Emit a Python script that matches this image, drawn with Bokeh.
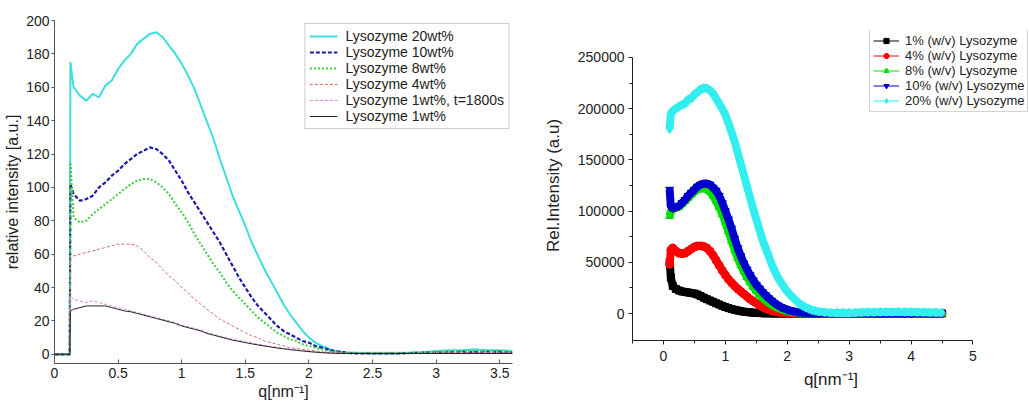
from bokeh.plotting import figure
from bokeh.layouts import row
from bokeh.models import Legend, LegendItem, FixedTicker, NumeralTickFormatter
from bokeh.embed import file_html
from bokeh.resources import INLINE

FONT = "Liberation Sans"

# ---------------- Left panel data (relative intensity vs q) ----------------
q_left = [0.0, 0.12, 0.125, 0.15,
          0.2, 0.25, 0.3, 0.35, 0.4, 0.45,
          0.5, 0.55, 0.6, 0.65, 0.7, 0.75, 0.8, 0.85, 0.9, 0.95,
          1.0, 1.05, 1.1, 1.15, 1.2, 1.25, 1.3, 1.35, 1.4, 1.45,
          1.5, 1.55, 1.6, 1.65, 1.7, 1.75, 1.8, 1.85, 1.9, 1.95,
          2.0, 2.05, 2.1, 2.15, 2.2, 2.25, 2.3, 2.35, 2.4,
          2.5, 2.6, 2.7, 2.8, 2.9, 3.0, 3.1, 3.2, 3.3, 3.4, 3.5, 3.6]

lys20 = [0, 0, 175, 160,
         155, 152, 156, 154, 161, 164,
         171, 176, 180, 186, 189, 192, 193, 190, 185, 180,
         174, 167, 159, 149, 139, 129, 117, 106, 95, 86,
         77, 67, 59, 51, 44, 37, 30, 24, 19, 14,
         10, 7, 5, 3.5, 2, 1.5, 1, 1, 0.8,
         0.5, 0.5, 0.7, 1, 1.2, 2, 2.5, 2.5, 3, 2.5, 2.5, 2]
lys10 = [0, 0, 102, 96,
         92, 93, 95, 100, 103, 107,
         110, 114, 117, 120, 122, 124, 123, 120, 116, 110,
         104, 97, 91, 85, 79, 73, 67, 60, 53, 46,
         40, 34, 29, 25, 21, 17, 14, 12, 10, 8,
         7, 5, 4, 3, 2, 1.5, 1, 0.5, 0.5,
         0.5, 0.5, 0.5, 0.8, 1, 1, 1.2, 1.5, 1.5, 1.5, 1.5, 1]
lys8 = [0, 0, 115, 82,
        79, 80, 84, 87, 90, 93,
        96, 99, 102, 104, 105, 105, 103, 100, 96, 90,
        85, 79, 72, 66, 60, 54, 49, 43, 38, 34,
        30, 26, 22, 19, 16, 13, 11, 9, 8, 6,
        5, 4, 3, 2, 1.5, 1, 1, 1, 1,
        1, 1, 1, 1, 1, 1.5, 1.5, 2, 2, 2, 2, 1.5]
lys4 = [0, 0, 58, 59,
        60, 61, 62, 63, 64, 65,
        66, 66, 66, 65, 62, 58, 55, 51, 47, 44,
        40, 37, 33, 30, 27, 24, 21, 19, 17, 15,
        13, 11, 10, 8, 7, 6, 5, 4, 3.5, 3,
        2.5, 2, 1.5, 1, 1, 0.8, 0.5, 0.5, 0.5,
        0.5, 0.5, 0.5, 0.5, 0.5, 0.8, 1, 1, 1, 1, 1, 1]
lys1_t1800 = [0, 0, 35, 33,
              32, 31, 32, 31, 30, 29,
              28, 27, 26, 25, 24, 23, 22, 21, 20, 19,
              17.5, 16.5, 15.5, 14.5, 13, 12, 11, 10, 9, 8.3,
              7.5, 6.8, 6, 5.4, 4.8, 4.2, 3.6, 3.1, 2.6, 2.2,
              1.8, 1.4, 1.1, 0.9, 0.7, 0.6, 0.6, 0.6, 0.6,
              0.6, 0.6, 0.6, 0.6, 0.6, 0.6, 0.6, 0.6, 0.6, 0.6, 0.6, 0.6]
lys1 = [0, 0, 26, 27,
        28, 29, 29, 29, 29, 28,
        27, 26, 25.5, 24.5, 23.5, 22.5, 21.5, 20.5, 19.5, 18.5,
        17, 16, 15, 14, 12.5, 11.5, 10.5, 9.5, 8.5, 7.8,
        7, 6.3, 5.6, 5, 4.4, 3.8, 3.3, 2.8, 2.4, 2,
        1.6, 1.3, 1, 0.8, 0.6, 0.5, 0.5, 0.5, 0.5,
        0.5, 0.5, 0.5, 0.5, 0.5, 0.5, 0.5, 0.5, 0.5, 0.5, 0.5, 0.5]

left_labels = ["Lysozyme 20wt%", "Lysozyme 10wt%", "Lysozyme 8wt%",
               "Lysozyme 4wt%", "Lysozyme 1wt%, t=1800s", "Lysozyme 1wt%"]
left_x_ticks = [0, 0.5, 1, 1.5, 2, 2.5, 3, 3.5]
left_y_ticks = [0, 20, 40, 60, 80, 100, 120, 140, 160, 180, 200]

# ---------------- Right panel data (Rel. intensity vs q) ----------------
q_right = [0.1, 0.12, 0.15,
           0.2, 0.25, 0.3, 0.35, 0.4, 0.45,
           0.5, 0.55, 0.6, 0.65, 0.7, 0.75, 0.8, 0.85, 0.9, 0.95,
           1.0, 1.05, 1.1, 1.15, 1.2, 1.25, 1.3, 1.35, 1.4, 1.45,
           1.5, 1.55, 1.6, 1.65, 1.7, 1.75, 1.8, 1.85, 1.9, 1.95,
           2.0, 2.05, 2.1, 2.15, 2.2, 2.25, 2.3, 2.35, 2.4, 2.45, 2.5,
           2.6, 2.7, 2.8, 2.9, 3.0, 3.1, 3.2, 3.3, 3.4, 3.5,
           3.6, 3.7, 3.8, 3.9, 4.0, 4.1, 4.2, 4.3, 4.4, 4.5]

wv1 = [50000, 35000, 27000,
       24000, 22500, 21500, 21000, 20500, 20000,
       19500, 18500, 17000, 15500, 14000, 12700, 11500, 10000, 8800, 7500,
       6300, 5300, 4400, 3600, 2900, 2300, 1800, 1400, 1100, 800,
       600, 400, 300, 200, 200, 100, 100, 100, 100, 100,
       100, 100, 100, 100, 100, 100, 100, 100, 100, 100, 100,
       100, 100, 100, 100, 100, 100, 100, 100, 100, 100,
       100, 100, 100, 100, 100, 100, 100, 100, 100, 100]
wv4 = [48000, 62000, 64000,
       61000, 59000, 58500, 59000, 61000, 63000,
       65000, 66000, 66000, 65500, 64000, 61000, 57000, 52000, 47000, 42000,
       37500, 33500, 30000, 27000, 24000, 21500, 19000, 16500, 14000, 12000,
       10000, 8000, 6500, 5000, 3800, 2800, 2000, 1400, 1000, 700,
       500, 400, 300, 200, 200, 100, 100, 100, 100, 100, 100,
       100, 100, 100, 100, 100, 100, 100, 100, 100, 100,
       100, 100, 100, 100, 100, 100, 100, 100, 100, 100]
wv8 = [95000, 100000, 102000,
       103000, 104000, 107000, 110000, 113000, 116000,
       119000, 121000, 122000, 122000, 121000, 119000, 115000, 110000, 104000, 97000,
       89000, 80000, 71000, 62000, 54000, 47000, 41000, 35500, 30500, 26000,
       22000, 18500, 15500, 13000, 10500, 8500, 6800, 5300, 4100, 3100,
       2300, 1700, 1200, 900, 600, 400, 300, 200, 200, 200, 200,
       200, 200, 200, 200, 200, 200, 200, 200, 200, 200,
       200, 200, 200, 200, 200, 200, 200, 200, 200, 200]
wv10 = [121000, 104000, 103000,
        104000, 105000, 108000, 111000, 115000, 118000,
        121000, 124000, 126000, 127000, 127000, 126000, 123000, 120000, 115000, 108000,
        100000, 92000, 83000, 73000, 64000, 56000, 49000, 43000, 37500, 32500,
        28000, 24500, 21000, 18000, 15000, 12500, 10000, 8000, 6300, 4900,
        3800, 2900, 2200, 1600, 1200, 900, 700, 500, 400, 300, 300,
        200, 200, 200, 200, 200, 200, 200, 200, 200, 200,
        200, 200, 200, 200, 200, 200, 200, 200, 200, 200]
wv20 = [180000, 195000, 198000,
        200000, 202000, 204000, 205000, 209000, 210000,
        214000, 216000, 219000, 220000, 220000, 218000, 215000, 210000, 205000, 200000,
        194000, 186000, 177000, 168000, 157000, 146000, 135000, 124000, 113000, 102000,
        92000, 82000, 72000, 64000, 56000, 48000, 41000, 35000, 30000, 25500,
        21500, 18000, 15000, 12000, 9500, 7500, 5800, 4500, 3400, 2600, 2000,
        1200, 800, 600, 500, 600, 800, 1000, 1200, 1300, 1400,
        1500, 1500, 1600, 1500, 1500, 1300, 1200, 1000, 900, 800]

right_labels = ["1% (w/v) Lysozyme", "4% (w/v) Lysozyme", "8% (w/v) Lysozyme",
                "10% (w/v) Lysozyme", "20% (w/v) Lysozyme"]
right_x_ticks = [0, 1, 2, 3, 4, 5]
right_x_minor = [-0.5, 0.5, 1.5, 2.5, 3.5, 4.5]
right_y_ticks = [0, 50000, 100000, 150000, 200000, 250000]
right_y_minor = [25000, 75000, 125000, 175000, 225000]

# ---------------- Left figure ----------------
p1 = figure(width=540, height=403, x_range=(0, 3.6), y_range=(-5.5, 200),
            output_backend="svg", toolbar_location=None,
            min_border_left=54, min_border_right=28, min_border_top=20, min_border_bottom=40)
p1.outline_line_color = None
p1.grid.visible = False

left_styles = [
    (lys20, "#3fdede", 2.0, "solid"),
    (lys10, "#1c1ca8", 2.2, "4 2"),
    (lys8, "#3ccc3c", 2.0, "2 2"),
    (lys4, "#d46a6a", 1.0, "3 2"),
    (lys1_t1800, "#d98ad9", 1.0, "3 2"),
    (lys1, "#222222", 1.0, "solid"),
]
for (ys, col, lw, dash), lab in zip(left_styles, left_labels):
    p1.line(q_left, ys, line_color=col, line_width=lw, line_dash=dash, legend_label=lab)

p1.xaxis.ticker = FixedTicker(ticks=left_x_ticks, minor_ticks=[])
p1.yaxis.ticker = FixedTicker(ticks=left_y_ticks, minor_ticks=[])
p1.xaxis.formatter = NumeralTickFormatter(format="0.[0]")
p1.yaxis.formatter = NumeralTickFormatter(format="0")
p1.xaxis.axis_label = "q[nm⁻¹]"
p1.yaxis.axis_label = "relative intensity [a.u.]"
for ax in (p1.xaxis[0], p1.yaxis[0]):
    ax.axis_line_color = "#555555"
    ax.major_tick_line_color = "#555555"
    ax.minor_tick_line_color = None
    ax.major_label_text_font = FONT
    ax.major_label_text_font_size = "14px"
    ax.major_label_text_color = "#222222"
    ax.axis_label_text_font = FONT
    ax.axis_label_text_font_size = "16px"
    ax.axis_label_text_font_style = "normal"
    ax.axis_label_text_color = "#222222"
p1.xaxis.major_tick_in = 4
p1.xaxis.major_tick_out = 0
p1.xaxis.major_label_standoff = 4
p1.xaxis.axis_label_standoff = 2
p1.yaxis.major_tick_in = 0
p1.yaxis.major_tick_out = 3
p1.yaxis.major_label_standoff = 2
p1.yaxis.axis_label_standoff = 2

lg1 = p1.legend[0]
lg1.location = "top_right"
lg1.margin = 3
lg1.padding = 4
lg1.spacing = 0
lg1.label_height = 14
lg1.glyph_height = 14
lg1.glyph_width = 28
lg1.label_standoff = 8
lg1.label_text_font = FONT
lg1.label_text_font_size = "14px"
lg1.label_text_color = "#222222"
lg1.border_line_color = "#9a9a9a"
lg1.border_line_width = 1
lg1.background_fill_alpha = 1.0

# ---------------- Right figure ----------------
# frame spans up to the canvas edge so the legend (which overlaps the top/right) is not clipped;
# the axis lines are limited with bounds.
p2 = figure(width=489, height=403, x_range=(-0.5, 5.913), y_range=(-26367, 276367),
            output_backend="svg", toolbar_location=None,
            min_border_left=85, min_border_right=0, min_border_top=30, min_border_bottom=63)
p2.outline_line_color = None
p2.grid.visible = False

for p in (p1, p2):
    if hasattr(p, "frame_align"):
        p.frame_align = False

right_styles = [
    (wv1, "#000000", "square", 7),
    (wv4, "#ff0000", "circle", 8),
    (wv8, "#00e000", "triangle", 8),
    (wv10, "#0000cc", "inverted_triangle", 8),
    (wv20, "#33eeee", "diamond", 9),
]
items = []
for (ys, col, mk, sz), lab in zip(right_styles, right_labels):
    p2.line(q_right, ys, line_color=col, line_width=8)
    thin = p2.line(q_right, ys, line_color=col, line_width=1)
    sc = p2.scatter(q_right, ys, marker=mk, size=sz, fill_color=col, line_color=col)
    items.append(LegendItem(label=lab, renderers=[thin, sc]))

lg2 = Legend(items=items, location=(237, 228))
lg2.padding = 3
lg2.spacing = 0
lg2.label_height = 13
lg2.glyph_height = 13
lg2.glyph_width = 26
lg2.label_standoff = 6
lg2.label_text_font = FONT
lg2.label_text_font_size = "13px"
lg2.label_text_color = "#222222"
lg2.border_line_color = "#aaaaaa"
lg2.background_fill_alpha = 1.0
p2.add_layout(lg2)

p2.xaxis.ticker = FixedTicker(ticks=right_x_ticks, minor_ticks=right_x_minor)
p2.yaxis.ticker = FixedTicker(ticks=right_y_ticks, minor_ticks=right_y_minor)
p2.xaxis.bounds = (-0.5, 5)
p2.yaxis.bounds = (-26367, 250000)
p2.xaxis.formatter = NumeralTickFormatter(format="0")
p2.yaxis.formatter = NumeralTickFormatter(format="0")
p2.xaxis.axis_label = "q[nm⁻¹]"
p2.yaxis.axis_label = "Rel.Intensity (a.u)"
for ax in (p2.xaxis[0], p2.yaxis[0]):
    ax.axis_line_color = "#222222"
    ax.major_tick_line_color = "#222222"
    ax.minor_tick_line_color = "#222222"
    ax.major_tick_in = 0
    ax.major_tick_out = 4
    ax.minor_tick_in = 0
    ax.minor_tick_out = 3
    ax.major_label_text_font = FONT
    ax.major_label_text_font_size = "14px"
    ax.major_label_text_color = "#222222"
    ax.axis_label_text_font = FONT
    ax.axis_label_text_font_size = "17px"
    ax.axis_label_text_font_style = "normal"
    ax.axis_label_text_color = "#222222"
p2.xaxis.major_label_standoff = 6
p2.xaxis.axis_label_standoff = 6
p2.yaxis.major_label_standoff = 4
p2.yaxis.axis_label_standoff = 12

layout = row(p1, p2)
open("out.html", "w").write(file_html(layout, INLINE))
